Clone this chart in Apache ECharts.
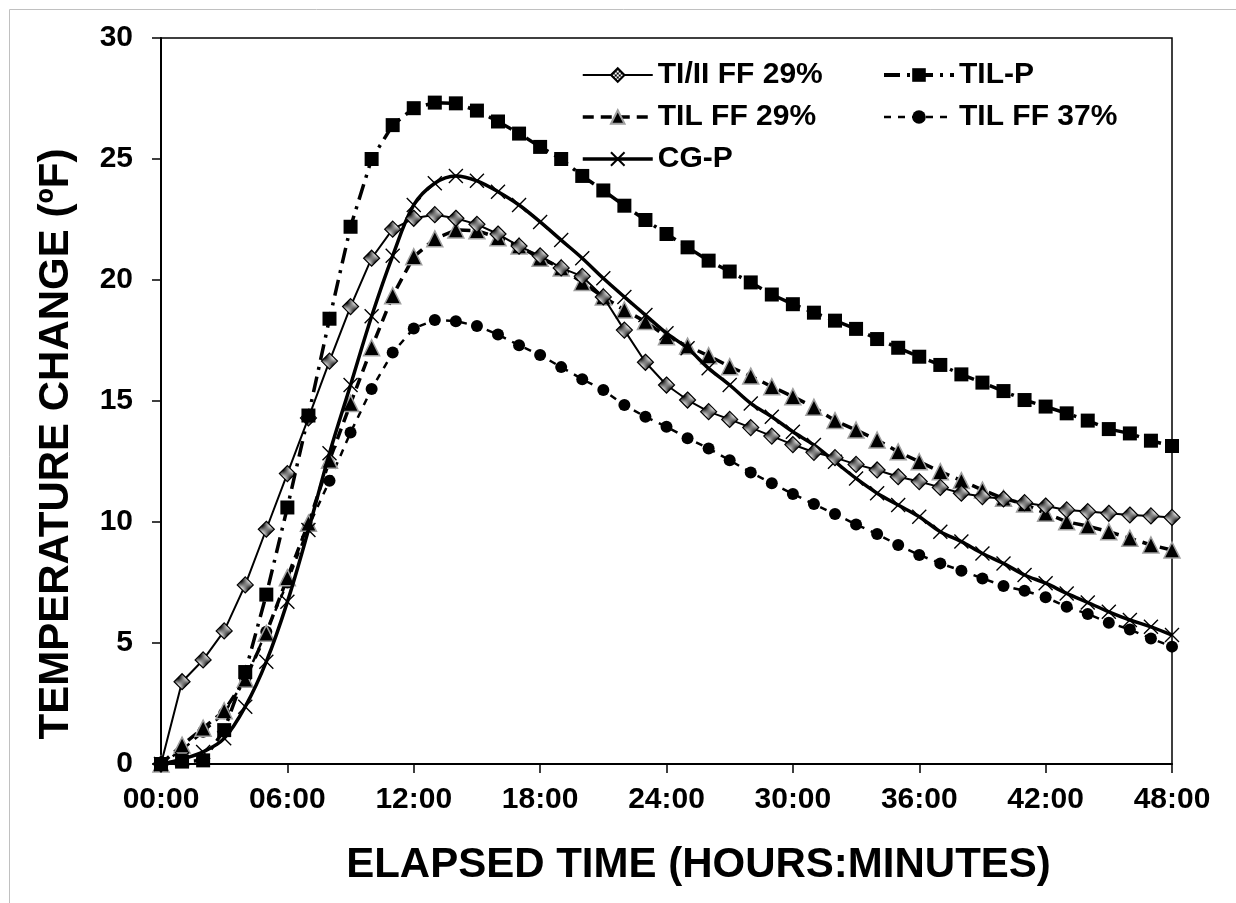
<!DOCTYPE html>
<html>
<head>
<meta charset="utf-8">
<script src="https://cdn.jsdelivr.net/npm/echarts@6/dist/echarts.min.js"></script>
<style>
html,body{margin:0;padding:0;background:#fff;}
#chart{width:1236px;height:903px;}
</style>
</head>
<body>
<div id="chart"></div>
<script>
// ---- data (hourly readings) ----
const hours = [0,1,2,3,4,5,6,7,8,9,10,11,12,13,14,15,16,17,18,19,20,21,22,23,24,25,26,27,28,29,30,31,32,33,34,35,36,37,38,39,40,41,42,43,44,45,46,47,48];
const xTickLabels = ['00:00','06:00','12:00','18:00','24:00','30:00','36:00','42:00','48:00'];
const yTickLabels = ['0','5','10','15','20','25','30'];

const tiiiFF29 = [0,3.4,4.3,5.5,7.4,9.7,12.0,14.3,16.65,18.9,20.9,22.1,22.55,22.7,22.55,22.3,21.9,21.4,21.0,20.5,20.15,19.3,17.93,16.6,15.66,15.04,14.56,14.24,13.9,13.55,13.2,12.88,12.66,12.38,12.15,11.87,11.67,11.43,11.19,11.05,10.95,10.8,10.66,10.5,10.43,10.36,10.29,10.25,10.19];
const tilP = [0,0.1,0.15,1.4,3.8,7.0,10.6,14.4,18.4,22.2,25.0,26.4,27.1,27.33,27.3,27.0,26.55,26.05,25.5,25.0,24.3,23.7,23.07,22.48,21.9,21.35,20.8,20.35,19.9,19.4,19.0,18.65,18.32,17.98,17.56,17.2,16.83,16.49,16.1,15.76,15.41,15.04,14.77,14.49,14.19,13.84,13.66,13.36,13.14];
const tilFF29 = [0,0.78,1.48,2.2,3.5,5.4,7.7,9.95,12.55,14.9,17.2,19.35,20.96,21.7,22.07,22.04,21.75,21.4,20.9,20.5,19.9,19.3,18.76,18.28,17.66,17.27,16.87,16.42,16.03,15.59,15.18,14.74,14.19,13.8,13.39,12.9,12.49,12.08,11.71,11.32,10.98,10.74,10.36,10.01,9.83,9.6,9.33,9.05,8.84];
const tilFF37 = [0,0.58,1.33,2.1,3.5,5.47,7.5,9.8,11.7,13.7,15.5,17.0,18.0,18.35,18.3,18.1,17.75,17.3,16.9,16.4,15.9,15.45,14.83,14.35,13.94,13.46,13.04,12.55,12.05,11.6,11.16,10.74,10.33,9.9,9.5,9.05,8.64,8.29,7.99,7.67,7.36,7.16,6.89,6.5,6.2,5.84,5.56,5.19,4.85];
const cgP = [0,0.2,0.5,1.06,2.37,4.23,6.7,9.67,12.84,15.66,18.5,21.0,23.1,24.0,24.3,24.1,23.65,23.1,22.4,21.65,20.9,20.07,19.3,18.55,17.8,17.18,16.35,15.66,14.9,14.35,13.73,13.18,12.49,11.8,11.19,10.7,10.22,9.6,9.19,8.7,8.29,7.81,7.47,7.05,6.67,6.29,5.95,5.67,5.33];

function pairs(vals){ return hours.map((h,i)=>[h, vals[i]]); }

// checkered fill for diamond markers
const pc = document.createElement('canvas');
pc.width = 4; pc.height = 4;
const pctx = pc.getContext('2d');
pctx.fillStyle = '#fff'; pctx.fillRect(0,0,4,4);
pctx.fillStyle = '#000'; pctx.fillRect(0,0,2,2); pctx.fillRect(2,2,2,2);
const checker = {image: pc, repeat: 'repeat'};

const FONT = '"Liberation Sans", Arial, Helvetica, sans-serif';
const legendText = {fontFamily: FONT, fontSize: 30, fontWeight: 'bold', color: '#000'};

const chart = echarts.init(document.getElementById('chart'), null, {renderer:'canvas'});
chart.setOption({
  animation: false,
  backgroundColor: '#fff',
  textStyle: {fontFamily: FONT, color: '#000', fontWeight: 'bold'},
  graphic: [{
    type: 'rect', left: 7, top: 7, silent: true, z: -10,
    shape: {width: 1300, height: 1000},
    style: {fill: 'none', stroke: '#c0c0c0', lineWidth: 1}
  }],
  grid: {left: 161, top: 38, right: 64, bottom: 139, show: true, borderColor: '#000', borderWidth: 1.5, backgroundColor: 'transparent'},
  legend: [{
    orient: 'vertical', left: 581, top: 60, padding: 0, itemWidth: 70, itemHeight: 17, itemGap: 12,
    data: [
      {name: 'TI/II FF 29%', lineStyle: {width: 2}},
      {name: 'TIL FF 29%', lineStyle: {width: 3.5}},
      {name: 'CG-P', lineStyle: {width: 3.5}}
    ],
    textStyle: legendText
  },{
    orient: 'vertical', left: 882, top: 60, padding: 0, itemWidth: 70, itemHeight: 17, itemGap: 12,
    data: [
      {name: 'TIL-P', lineStyle: {width: 4}},
      {name: 'TIL FF 37%', lineStyle: {width: 2.5}}
    ],
    textStyle: legendText
  }],
  xAxis: {
    type: 'value', min: 0, max: 48, interval: 6,
    name: 'ELAPSED TIME (HOURS:MINUTES)', nameLocation: 'middle', nameGap: 80,
    nameTextStyle: {fontFamily: FONT, fontSize: 42, fontWeight: 'bold', color: '#000', padding: [0,0,0,64]},
    axisLine: {lineStyle: {color: '#000', width: 2}},
    axisTick: {inside: false, length: 9, lineStyle: {color: '#000', width: 1.5}},
    axisLabel: {margin: 21, fontFamily: FONT, fontSize: 30, fontWeight: 'bold', color: '#000',
      formatter: v => xTickLabels[Math.round(v/6)]},
    splitLine: {show: false}
  },
  yAxis: {
    type: 'value', min: 0, max: 30, interval: 5,
    name: 'TEMPERATURE CHANGE (ºF)', nameLocation: 'middle', nameGap: 84, nameRotate: 90,
    nameTextStyle: {fontFamily: FONT, fontSize: 42, fontWeight: 'bold', color: '#000', padding: [0,86,0,0]},
    axisLine: {show: true, lineStyle: {color: '#000', width: 2}},
    axisTick: {show: true, inside: false, length: 9, lineStyle: {color: '#000', width: 1.5}},
    axisLabel: {margin: 28, fontFamily: FONT, fontSize: 30, fontWeight: 'bold', color: '#000',
      formatter: v => yTickLabels[Math.round(v/5)]},
    splitLine: {show: false}
  },
  series: [
    {
      name: 'TIL FF 37%', type: 'line', data: pairs(tilFF37), z: 2,
      symbol: 'circle', symbolSize: 12, showAllSymbol: true,
      lineStyle: {color: '#000', width: 2.5, type: [7,7]},
      itemStyle: {color: '#000', borderColor: '#000', borderWidth: 0}
    },
    {
      name: 'TIL FF 29%', type: 'line', data: pairs(tilFF29), z: 3,
      symbol: 'triangle', symbolSize: 16, showAllSymbol: true,
      lineStyle: {color: '#000', width: 3.5, type: [11,7]},
      itemStyle: {color: '#000', borderColor: '#a0a0a0', borderWidth: 1.5}
    },
    {
      name: 'CG-P', type: 'line', data: pairs(cgP), z: 4, smooth: 0.35,
      symbol: 'path://M0,0L10,10M10,0L0,10', symbolSize: 14, showAllSymbol: true,
      lineStyle: {color: '#000', width: 3.5},
      itemStyle: {color: '#000', borderColor: '#000', borderWidth: 1.4}
    },
    {
      name: 'TI/II FF 29%', type: 'line', data: pairs(tiiiFF29), z: 5,
      symbol: 'diamond', symbolSize: 16, showAllSymbol: true,
      lineStyle: {color: '#000', width: 2},
      itemStyle: {color: checker, borderColor: '#000', borderWidth: 1.2}
    },
    {
      name: 'TIL-P', type: 'line', data: pairs(tilP), z: 6,
      symbol: 'rect', symbolSize: 14, showAllSymbol: true,
      lineStyle: {color: '#000', width: 3.5, type: [16,7,3,7]},
      itemStyle: {color: '#000', borderColor: '#000', borderWidth: 0}
    }
  ]
});
</script>
</body>
</html>
